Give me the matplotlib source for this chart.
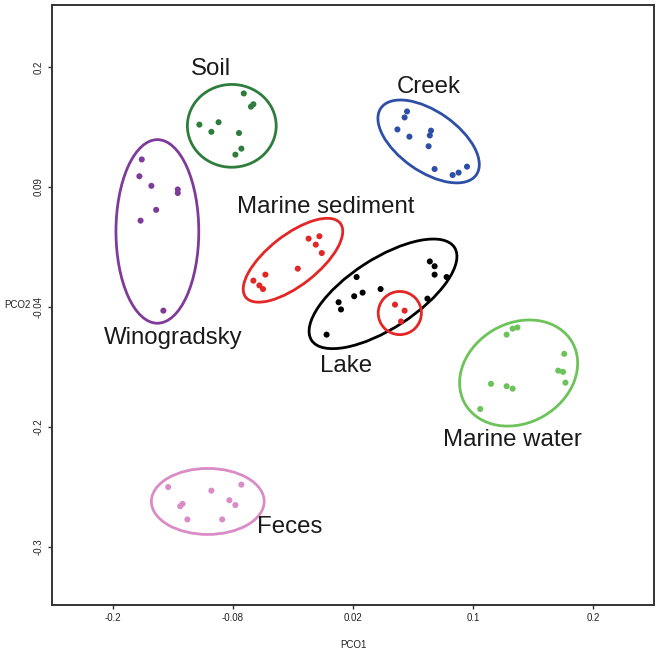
import matplotlib
matplotlib.use("Agg")
import matplotlib.pyplot as plt
from matplotlib.patches import Ellipse

plt.rcParams['font.family'] = ['Liberation Sans', 'DejaVu Sans']

# ---- data (chart units) ----
soil_x = [-0.091, -0.083, -0.085, -0.128, -0.112, -0.118, -0.095, -0.093, -0.098]
soil_y = [0.078, 0.069, 0.067, 0.052, 0.054, 0.046, 0.045, 0.032, 0.027]

wino_x = [-0.176, -0.178, -0.168, -0.146, -0.146, -0.164, -0.177, -0.158]
wino_y = [0.023, 0.009, 0.001, -0.002, -0.005, -0.019, -0.028, -0.103]

msed_x = [-0.037, -0.028, -0.031, -0.026, -0.046, -0.073, -0.083, -0.078, -0.075]
msed_y = [-0.043, -0.041, -0.048, -0.055, -0.068, -0.073, -0.078, -0.082, -0.085]

msed2_x = [0.035, 0.043, 0.040]
msed2_y = [-0.098, -0.103, -0.112]

lake_x = [0.064, 0.068, 0.068, 0.078, 0.003, 0.008, 0.001, 0.023, -0.012, -0.010, 0.062, -0.022]
lake_y = [-0.062, -0.066, -0.073, -0.075, -0.075, -0.088, -0.091, -0.085, -0.096, -0.102, -0.093, -0.123]

creek_x = [0.045, 0.043, 0.037, 0.047, 0.065, 0.064, 0.063, 0.068, 0.083, 0.088, 0.095]
creek_y = [0.063, 0.058, 0.048, 0.042, 0.047, 0.043, 0.034, 0.015, 0.010, 0.012, 0.017]

mwat_x = [0.128, 0.133, 0.137, 0.176, 0.171, 0.175, 0.177, 0.115, 0.128, 0.133, 0.106]
mwat_y = [-0.123, -0.118, -0.117, -0.139, -0.153, -0.154, -0.163, -0.164, -0.166, -0.168, -0.185]

feces_x = [-0.154, -0.093, -0.118, -0.142, -0.144, -0.103, -0.098, -0.138, -0.109]
feces_y = [-0.250, -0.248, -0.253, -0.264, -0.266, -0.261, -0.265, -0.277, -0.277]

x_ticks = [-0.2, -0.1, 0.0, 0.1, 0.2]
x_tick_labels = ['-0.2', '-0.08', '0.02', '0.1', '0.2']
y_ticks = [-0.3, -0.2, -0.1, 0.0, 0.1]
y_tick_labels = ['-0.3', '-0.2', '-0.04', '0.09', '0.2']

# groups: points, color, ellipse (cx, cy, w, h, angle), label (text, x, y)
groups = [
    (soil_x, soil_y, '#2e7d3c', (-0.101, 0.051, 0.074, 0.069, 0), ('Soil', -0.118, 0.098)),
    (wino_x, wino_y, '#7e3b9a', (-0.163, -0.037, 0.069, 0.153, 0), ('Winogradsky', -0.150, -0.126)),
    (msed_x, msed_y, '#e32626', (-0.050, -0.061, 0.100, 0.042, 38), ('Marine sediment', -0.023, -0.017)),
    (lake_x, lake_y, '#000000', (0.025, -0.089, 0.142, 0.058, 33), ('Lake', -0.006, -0.149)),
    (msed2_x, msed2_y, '#e32626', (0.039, -0.105, 0.036, 0.036, 0), None),
    (creek_x, creek_y, '#2e4fa6', (0.063, 0.038, 0.097, 0.050, -35), ('Creek', 0.063, 0.083)),
    (mwat_x, mwat_y, '#6cc35a', (0.138, -0.155, 0.103, 0.083, 30), ('Marine water', 0.133, -0.211)),
    (feces_x, feces_y, '#d98cc6', (-0.121, -0.262, 0.094, 0.055, 0), ('Feces', -0.053, -0.283)),
]

fig = plt.figure(figsize=(6.6, 6.52), dpi=100)
ax = fig.add_axes([52/660, 1-605/652, 602/660, 600/652])

for gx, gy, col, ell, lab in groups:
    ax.scatter(gx, gy, s=19, color=col, edgecolors='none', zorder=3)
    cx, cy, w, h, ang = ell
    ax.add_patch(Ellipse((cx, cy), w, h, angle=ang, fill=False,
                         edgecolor=col, linewidth=2.0, zorder=2))
    if lab is not None:
        ax.text(lab[1], lab[2], lab[0], fontsize=17.3, color='#1a1a1a',
                ha='center', va='center', zorder=4)

ax.set_xlim(-0.2508, 0.2508)
ax.set_ylim(-0.3483, 0.1517)
ax.set_xticks(x_ticks)
ax.set_xticklabels(x_tick_labels)
ax.set_yticks(y_ticks)
ax.set_yticklabels(y_tick_labels, rotation=90, va='center')
ax.tick_params(axis='both', labelsize=7, length=3, width=1, color='#333333',
               labelcolor='#222222', pad=3)
for sp in ax.spines.values():
    sp.set_linewidth(1.4)
    sp.set_color('#333333')

ax.set_xlabel('PCO1', fontsize=7, color='#222222', labelpad=12)
ax.set_ylabel('PCO2', fontsize=7, color='#222222', rotation=0, labelpad=12, va='center')

fig.savefig('out.png', dpi=100)
